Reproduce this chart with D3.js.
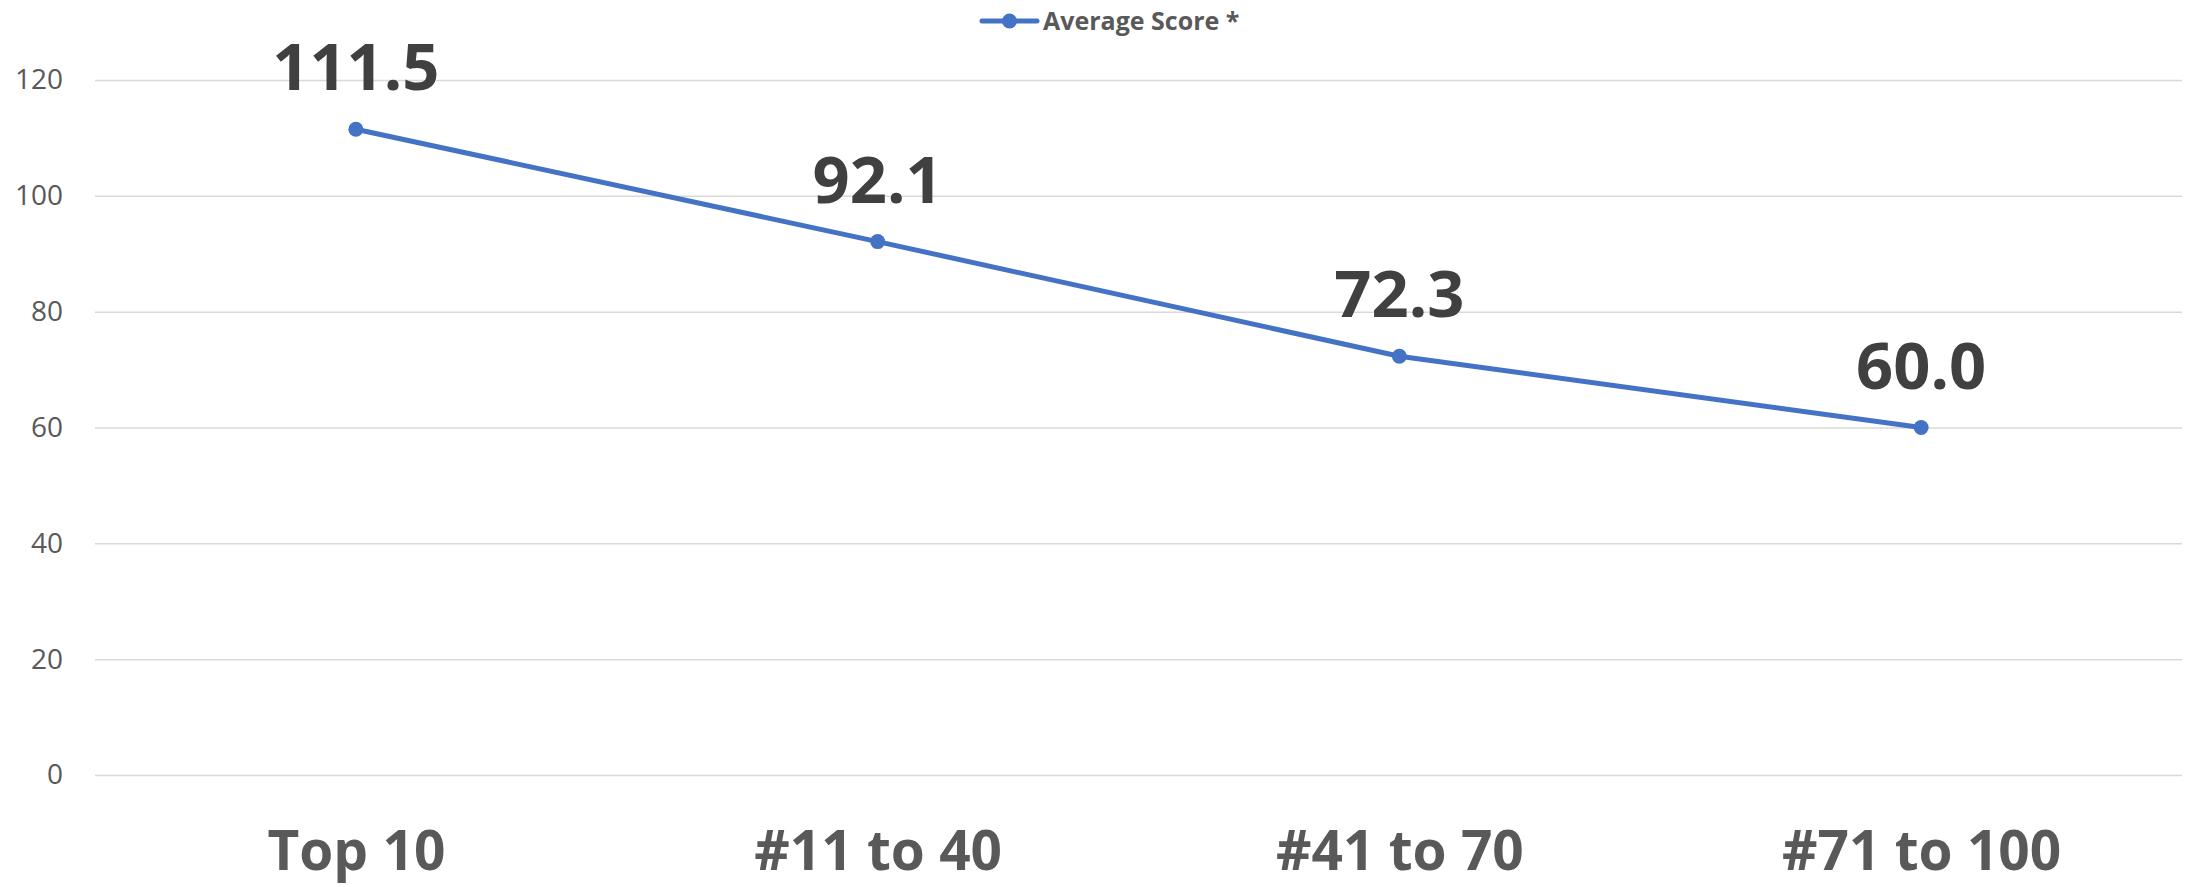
<!DOCTYPE html>
<html>
<head>
<meta charset="utf-8">
<script src="https://cdn.jsdelivr.net/npm/d3@7"></script>
<style>
  body { margin: 0; background: #fff; }
  svg { display: block; font-family: "Open Sans", sans-serif; }
</style>
</head>
<body>
<svg id="chart" width="2190" height="887"></svg>
<script>
// chart data
var categories = ["Top 10", "#11 to 40", "#41 to 70", "#71 to 100"];
var scores = [111.5, 92.1, 72.3, 60.0];
var yTicks = [0, 20, 40, 60, 80, 100, 120];
var seriesName = "Average Score *";

var svg = d3.select("#chart"),
    plotLeft = 95,
    plotRight = 2182,
    plotTop = 80,
    plotBottom = 775,
    blue = "#4472C4";

var x = d3.scalePoint()
    .domain(categories)
    .range([plotLeft, plotRight])
    .padding(0.5);

var y = d3.scaleLinear()
    .domain([0, 120])
    .range([plotBottom, plotTop]);

// gridlines + y labels
var yAxis = svg.append("g")
    .attr("transform", "translate(" + plotLeft + ",0)")
    .call(d3.axisLeft(y).tickValues(yTicks).tickSize(-(plotRight - plotLeft)).tickPadding(32));

yAxis.select(".domain").remove();
yAxis.selectAll(".tick line").attr("stroke", "#d9d9d9").attr("stroke-width", 1.5);
yAxis.selectAll(".tick text")
    .attr("fill", "#595959")
    .style("font-size", "28px")
    .style("font-family", "Open Sans");

// x labels
var xAxis = svg.append("g")
    .attr("transform", "translate(0," + plotBottom + ")")
    .call(d3.axisBottom(x).tickSize(0).tickPadding(0));

xAxis.select(".domain").remove();
xAxis.selectAll(".tick text")
    .attr("dy", null)
    .attr("y", 95)
    .attr("fill", "#595959")
    .style("font-size", "55px")
    .style("font-weight", "700")
    .style("font-family", "Open Sans");

// line
var line = d3.line()
    .x(function (d, i) { return x(categories[i]); })
    .y(function (d) { return y(d); });

svg.append("path")
    .datum(scores)
    .attr("fill", "none")
    .attr("stroke", blue)
    .attr("stroke-width", 5)
    .attr("stroke-linejoin", "round")
    .attr("d", line);

svg.selectAll("circle.pt")
    .data(scores)
    .enter().append("circle")
    .attr("class", "pt")
    .attr("cx", function (d, i) { return x(categories[i]); })
    .attr("cy", function (d) { return y(d); })
    .attr("r", 7.5)
    .attr("fill", blue);

// value labels
svg.selectAll("text.val")
    .data(scores)
    .enter().append("text")
    .attr("class", "val")
    .attr("x", function (d, i) { return x(categories[i]); })
    .attr("y", function (d) { return y(d) - 39; })
    .attr("text-anchor", "middle")
    .attr("fill", "#404040")
    .style("font-size", "65px")
    .style("font-weight", "700")
    .text(function (d) { return d.toFixed(1); });

// legend
var legend = svg.append("g").attr("transform", "translate(982,21)");
legend.append("line")
    .attr("x1", 0).attr("x2", 55)
    .attr("stroke", blue).attr("stroke-width", 5).attr("stroke-linecap", "round");
legend.append("circle").attr("cx", 27.5).attr("r", 7.5).attr("fill", blue);
legend.append("text")
    .attr("x", 61)
    .attr("y", 9)
    .attr("fill", "#595959")
    .style("font-size", "25px")
    .style("font-weight", "700")
    .text(seriesName);
</script>
</body>
</html>
